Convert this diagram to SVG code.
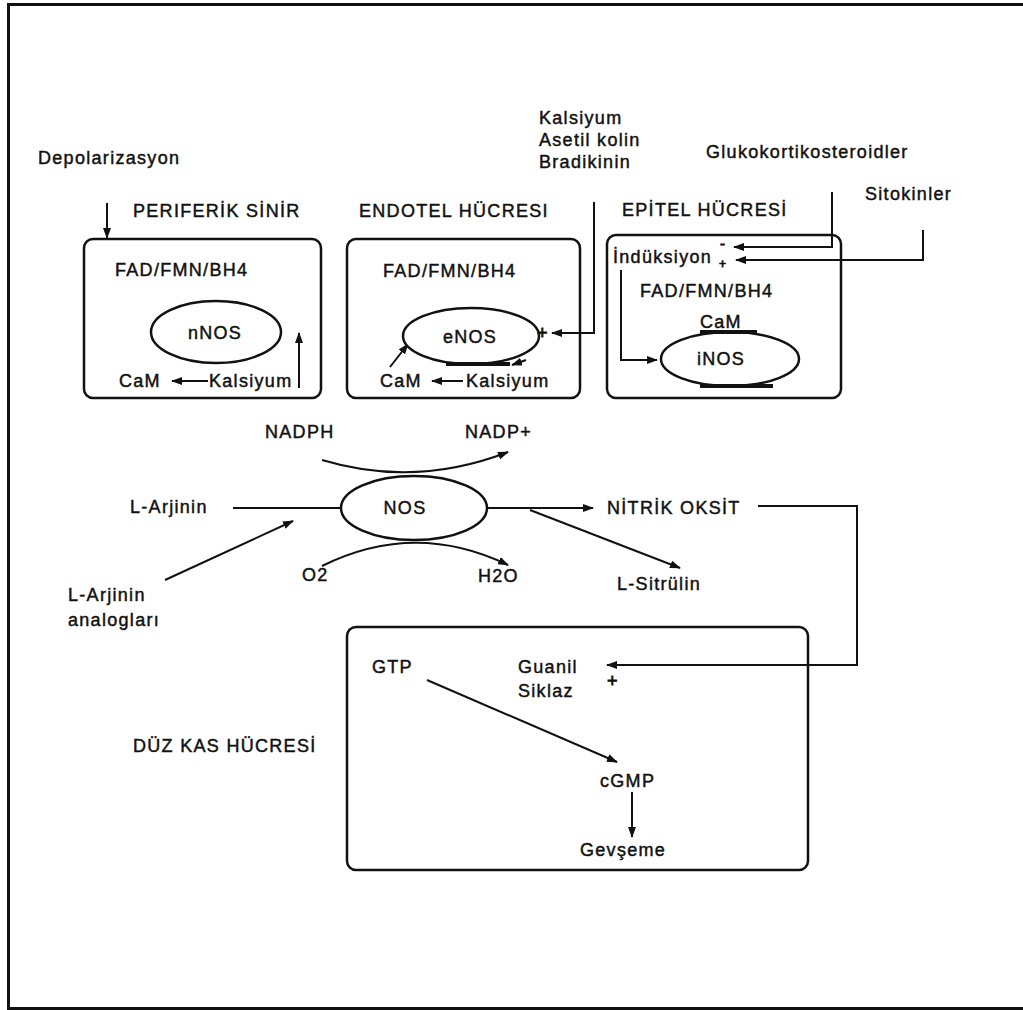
<svg xmlns="http://www.w3.org/2000/svg" width="1023" height="1010" viewBox="0 0 1023 1010">
  <defs>
    <marker id="arrow" markerUnits="userSpaceOnUse" markerWidth="11" markerHeight="8" refX="10" refY="4" orient="auto">
      <path d="M0,0 L11,4 L0,8 z" fill="#111"/>
    </marker>
    <style>
      text { font-family: "Liberation Sans", Arial, sans-serif; font-size: 18px; letter-spacing: 1.3px; fill: #111; stroke: #111; stroke-width: 0.45px; }
      .mid { text-anchor: middle; }
      .sign { letter-spacing: 0; stroke-width: 0.8px; }
      .cell { fill: none; stroke: #111; stroke-width: 2.5; }
      .enz { fill: #fff; stroke: #111; stroke-width: 2.5; }
      .link { fill: none; stroke: #111; stroke-width: 2; }
      .arr { fill: none; stroke: #111; stroke-width: 2; marker-end: url(#arrow); }
      .thick { fill: none; stroke: #111; stroke-width: 4; }
    </style>
  </defs>

  <rect width="1023" height="1010" fill="#fff"/>
  <!-- page frame (right side runs off the page) -->
  <path d="M1030,4.5 H8.5 V1008.5 H1030" fill="none" stroke="#111" stroke-width="3"/>

  <!-- connectors -->
  <g id="connectors">
    <path class="arr" d="M107,203 V238"/>
    <path class="arr" d="M208,381 H172"/>
    <path class="arr" d="M299,388 V333"/>
    <path class="arr" d="M594,202 V333 H552"/>
    <path class="arr" d="M390,367 L408,344"/>
    <path class="arr" d="M463,381 H432"/>
    <path class="arr" d="M526,360 L512,365"/>
    <path class="arr" d="M832,192 V247 H734"/>
    <path class="arr" d="M923,230 V260 H736"/>
    <path class="arr" d="M621,270 V360 H657"/>
    <path class="arr" d="M322,460 Q415,488 508,452"/>
    <path class="arr" d="M322,566 Q415,520 508,565"/>
    <path class="link" d="M233,508 H341"/>
    <path class="arr" d="M165,580 L293,521"/>
    <path class="arr" d="M487,508 H593"/>
    <path class="arr" d="M530,510 L680,568"/>
    <path class="arr" d="M758,506 H857 V665 H607"/>
    <path class="arr" d="M427,680 L617,762"/>
    <path class="arr" d="M632,792 V837"/>
  </g>

  <!-- free labels -->
  <text x="38" y="164">Depolarizasyon</text>
  <text x="539" y="124">Kalsiyum</text>
  <text x="539" y="146">Asetil kolin</text>
  <text x="539" y="168">Bradikinin</text>
  <text x="706" y="158">Glukokortikosteroidler</text>
  <text x="865" y="200">Sitokinler</text>

  <!-- peripheral nerve -->
  <g id="periferik-sinir">
    <text x="133" y="217">PERIFERİK SİNİR</text>
    <rect class="cell" x="84" y="239" width="237" height="159" rx="9"/>
    <text x="115" y="276">FAD/FMN/BH4</text>
    <ellipse class="enz" cx="216" cy="332" rx="65" ry="31"/>
    <text class="mid" x="215" y="339">nNOS</text>
    <text x="119" y="387">CaM</text>
    <text x="209" y="387">Kalsiyum</text>
  </g>

  <!-- endothelial cell -->
  <g id="endotel-hucresi">
    <text x="359" y="217">ENDOTEL HÜCRESI</text>
    <rect class="cell" x="347" y="239" width="233" height="159" rx="9"/>
    <text x="383" y="277">FAD/FMN/BH4</text>
    <ellipse class="enz" cx="471" cy="336" rx="68" ry="28"/>
    <path class="thick" d="M446,364 H510"/>
    <text class="mid" x="470" y="343">eNOS</text>
    <text class="sign" x="537" y="339">+</text>
    <text x="380" y="387">CaM</text>
    <text x="466" y="387">Kalsiyum</text>
  </g>

  <!-- epithelial cell -->
  <g id="epitel-hucresi">
    <text x="622" y="216">EPİTEL HÜCRESİ</text>
    <rect class="cell" x="607" y="235" width="234" height="163" rx="9"/>
    <text x="613" y="263">İndüksiyon</text>
    <text class="sign" x="720" y="249" style="font-size:15px">-</text>
    <text class="sign" x="719" y="268" style="font-size:12px">+</text>
    <text x="640" y="297">FAD/FMN/BH4</text>
    <text x="700" y="328">CaM</text>
    <ellipse class="enz" cx="730" cy="359" rx="69" ry="27"/>
    <path class="thick" d="M700,332 H757 M700,386 H773"/>
    <text class="mid" x="721" y="365">iNOS</text>
  </g>

  <!-- NOS reaction -->
  <g id="nos">
    <text x="265" y="438">NADPH</text>
    <text x="465" y="438">NADP+</text>
    <text x="130" y="513">L-Arjinin</text>
    <ellipse class="enz" cx="414" cy="508" rx="73" ry="32"/>
    <text class="mid" x="405" y="514">NOS</text>
    <text x="607" y="514">NİTRİK OKSİT</text>
    <text x="302" y="581">O2</text>
    <text x="478" y="582">H2O</text>
    <text x="617" y="590">L-Sitrülin</text>
    <text x="68" y="601">L-Arjinin</text>
    <text x="68" y="626">analogları</text>
  </g>

  <!-- smooth muscle cell -->
  <g id="duz-kas-hucresi">
    <text x="133" y="752">DÜZ KAS HÜCRESİ</text>
    <rect class="cell" x="347" y="627" width="461" height="243" rx="9"/>
    <text x="372" y="673">GTP</text>
    <text x="518" y="673">Guanil</text>
    <text x="518" y="697">Siklaz</text>
    <text class="sign" x="607" y="687">+</text>
    <text x="600" y="787">cGMP</text>
    <text x="580" y="856">Gevşeme</text>
  </g>
</svg>
